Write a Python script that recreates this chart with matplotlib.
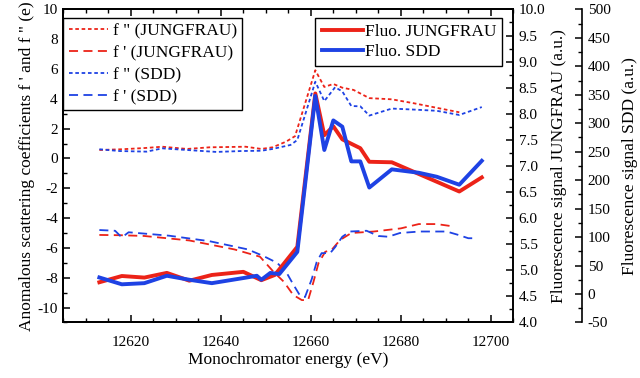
import matplotlib
matplotlib.use("Agg")
import matplotlib.pyplot as plt
from matplotlib.ticker import MultipleLocator, FormatStrFormatter

plt.rcParams["font.family"] = ["Liberation Serif", "DejaVu Serif"]
plt.rcParams["axes.unicode_minus"] = False

RED = "#ec2318"
BLUE = "#1e42e4"

# Fluorescence signals
e_fluo_jf = [12613, 12618, 12623, 12628, 12633, 12638, 12645, 12649, 12652, 12657,
             12661, 12663, 12665, 12667, 12671, 12673, 12678, 12693, 12698]
fluo_jf = [4.77, 4.89, 4.86, 4.95, 4.80, 4.91, 4.97, 4.81, 4.91, 5.45,
           8.39, 7.59, 7.76, 7.51, 7.34, 7.08, 7.07, 6.51, 6.78]

e_fluo_sdd = [12613, 12618, 12623, 12628, 12633, 12638, 12645, 12648, 12649, 12651,
              12653, 12657, 12661, 12663, 12665, 12667, 12669, 12671, 12673, 12678,
              12684, 12688, 12693, 12698]
fluo_sdd = [29, 17, 19, 32, 25, 19, 28, 32, 25, 37,
            35, 74, 348, 253, 305, 294, 233, 233, 187, 219,
            213, 206, 192, 234]

# f'' (imaginary part)
e_f2_jf = [12613, 12618, 12623, 12627, 12632.5, 12637.5, 12645.5, 12649, 12651.5, 12654.5,
           12656.5, 12661, 12663, 12665, 12667, 12669.5, 12673, 12678, 12683, 12688, 12693]
f2_jf = [0.57, 0.62, 0.70, 0.79, 0.64, 0.75, 0.79, 0.64, 0.75, 1.13,
         1.50, 5.92, 4.80, 5.00, 4.75, 4.60, 4.05, 3.97, 3.70, 3.40, 3.10]

e_f2_sdd = [12613, 12617.5, 12623.5, 12627, 12632.5, 12639, 12644.5, 12649, 12651.5, 12655.5,
            12657, 12661, 12663, 12665.4, 12667, 12669, 12671, 12673, 12678, 12683,
            12688, 12693, 12698]
f2_sdd = [0.62, 0.50, 0.46, 0.68, 0.57, 0.44, 0.50, 0.52, 0.64, 0.91,
          1.24, 5.15, 3.85, 4.78, 4.50, 3.52, 3.50, 2.88, 3.35, 3.28,
          3.20, 2.92, 3.45]

# f' (real part)
e_f1_jf = [12613, 12618, 12623, 12628, 12633, 12638, 12643, 12648.7, 12651.7, 12654,
           12656.1, 12658, 12659.4, 12660.6, 12661.7, 12663.2, 12664.6, 12666.5, 12669, 12674,
           12680, 12684, 12688, 12691.5]
f1_jf = [-5.13, -5.15, -5.20, -5.35, -5.50, -5.80, -6.10, -6.59, -7.60, -8.27,
         -9.16, -9.50, -9.50, -8.27, -7.03, -6.26, -6.14, -5.47, -5.00, -4.90,
         -4.69, -4.40, -4.40, -4.55]

e_f1_sdd = [12613, 12616.5, 12618, 12619.5, 12628.5, 12637.5, 12646, 12649.5, 12652.5, 12654.5,
            12656, 12657.5, 12658.7, 12660.2, 12661.3, 12662.4, 12664.3, 12665.4, 12667, 12668.7,
            12672.4, 12675, 12677.2, 12679.8, 12684.2, 12690.2, 12692.8, 12695, 12697]
f1_sdd = [-4.80, -4.85, -5.30, -4.95, -5.18, -5.55, -6.10, -6.55, -7.00, -7.60,
          -8.40, -9.15, -9.30, -8.10, -6.95, -6.35, -6.35, -5.95, -5.25, -4.90,
          -4.85, -5.20, -5.25, -5.00, -4.90, -4.90, -5.13, -5.35, -5.35]

fig = plt.figure(figsize=(6.4, 3.78), dpi=100)
ax = fig.add_axes([0.099, 0.147, 0.703, 0.828])
ax2 = ax.twinx()
ax3 = ax.twinx()
ax3.spines["right"].set_position(("axes", 1.153))

dot = (0, (2, 1.5))
dash = (0, (5, 3))
h1, = ax.plot(e_f2_jf, f2_jf, color=RED, lw=1.3, linestyle=dot, label='f " (JUNGFRAU)')
h2, = ax.plot(e_f1_jf, f1_jf, color=RED, lw=1.3, linestyle=dash, label="f ' (JUNGFRAU)")
h3, = ax.plot(e_f2_sdd, f2_sdd, color=BLUE, lw=1.3, linestyle=dot, label='f " (SDD)')
h4, = ax.plot(e_f1_sdd, f1_sdd, color=BLUE, lw=1.3, linestyle=dash, label="f ' (SDD)")

h5, = ax2.plot(e_fluo_jf, fluo_jf, color=RED, lw=2.8, label="Fluo. JUNGFRAU")
h6, = ax3.plot(e_fluo_sdd, fluo_sdd, color=BLUE, lw=2.8, label="Fluo. SDD")

ax.set_xlim(12605, 12705)
ax.set_ylim(-11, 10)
ax2.set_ylim(4.0, 10.0)
ax3.set_ylim(-50, 500)

ax.xaxis.set_major_locator(MultipleLocator(20))
ax.xaxis.set_minor_locator(MultipleLocator(5))
ax.yaxis.set_major_locator(MultipleLocator(2))
ax.yaxis.set_minor_locator(MultipleLocator(1))
ax2.yaxis.set_major_locator(MultipleLocator(0.5))
ax2.yaxis.set_minor_locator(MultipleLocator(0.25))
ax2.yaxis.set_major_formatter(FormatStrFormatter("%.1f"))
ax3.yaxis.set_major_locator(MultipleLocator(50))
ax3.yaxis.set_minor_locator(MultipleLocator(25))

for a in (ax, ax2, ax3):
    a.tick_params(which="major", direction="in", length=5, width=1.1, labelsize=11, pad=4)
    a.tick_params(which="minor", direction="in", length=3, width=1.0)
    for s in a.spines.values():
        s.set_linewidth(1.2)
ax.tick_params(axis="x", which="both", top=True)
ax.tick_params(axis="x", which="major", pad=10)

ax.set_xlabel("Monochromator energy (eV)", fontsize=12.5, labelpad=2)
ax.set_ylabel("Anomalous scattering coefficients f ' and f \" (e)", fontsize=12.5, labelpad=2)
ax2.set_ylabel("Fluorescence signal JUNGFRAU (a.u.)", fontsize=12.5, labelpad=4)
ax3.set_ylabel("Fluorescence signal SDD (a.u.)", fontsize=12.5, labelpad=8)

leg1 = ax3.legend(handles=[h1, h2, h3, h4], loc="upper left", bbox_to_anchor=(0.0, 0.973),
                  borderaxespad=0, fontsize=12.5, fancybox=False, edgecolor="black",
                  framealpha=1, handlelength=2.3, handletextpad=0.25, labelspacing=0.33,
                  borderpad=0.3)
leg1.get_frame().set_linewidth(1.0)
ax3.add_artist(leg1)
leg2 = ax3.legend(handles=[h5, h6], loc="upper right", bbox_to_anchor=(0.976, 0.973),
                  borderaxespad=0, fontsize=12.5, fancybox=False, edgecolor="black",
                  framealpha=1, handlelength=2.4, handletextpad=0.1, labelspacing=0.2,
                  borderpad=0.35)
leg2.get_frame().set_linewidth(1.0)

fig.savefig("out.png", dpi=100)
